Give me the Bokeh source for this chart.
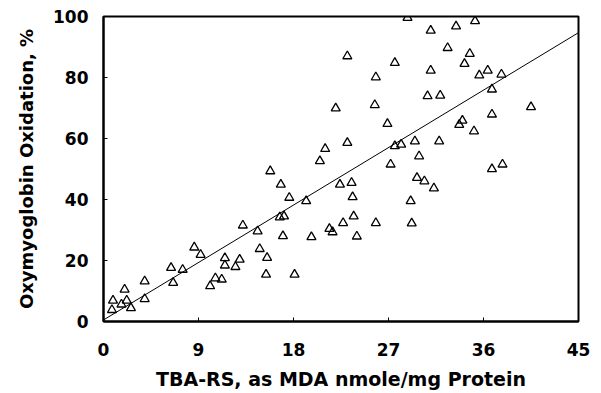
from bokeh.plotting import figure
from bokeh.models import Range1d, FixedTicker, ColumnDataSource
from bokeh.embed import file_html
from bokeh.resources import INLINE

# Data
tba_rs = [0.8, 0.9, 1.7, 2.0, 2.2, 2.6, 3.9, 3.9, 6.4, 6.6, 7.5, 8.6, 9.2, 10.1, 10.6,
          11.2, 11.5, 11.5, 12.5, 12.9, 13.2, 14.6, 14.8, 15.5, 15.4, 15.8, 16.8, 16.7,
          17.1, 17.0, 17.6, 18.1, 19.2, 19.7, 20.5, 21.0, 21.4, 21.7, 22.0, 22.4, 22.7,
          23.1, 23.1, 23.5, 23.6, 23.7, 24.0, 25.7, 25.8, 25.8, 26.9, 27.2, 27.6, 27.6,
          28.2, 28.8, 29.1, 29.2, 29.5, 29.7, 29.9, 30.4, 30.7, 31.0, 31.0, 31.3, 31.8,
          31.9, 32.6, 33.4, 33.7, 34.0, 34.2, 34.7, 35.1, 35.2, 35.6, 36.4, 36.8, 36.8,
          36.8, 37.7, 37.8, 40.5]
oxidation = [3.8, 6.9, 5.6, 10.5, 6.9, 4.4, 7.4, 13.2, 17.6, 12.7, 17.0, 24.3, 21.9, 11.6, 14.2,
             13.8, 20.8, 18.4, 17.9, 20.3, 31.5, 29.6, 23.8, 20.9, 15.4, 49.3, 44.9, 34.2,
             34.5, 28.0, 40.6, 15.4, 39.5, 27.7, 52.6, 56.6, 30.4, 29.3, 69.9, 44.9, 32.3,
             87.0, 58.6, 45.5, 40.8, 34.5, 27.9, 71.0, 80.1, 32.3, 64.8, 51.5, 84.8, 57.5,
             58.0, 99.6, 39.5, 32.2, 59.1, 47.1, 54.2, 46.0, 73.9, 95.4, 82.3, 43.7, 59.1,
             74.1, 89.7, 96.8, 64.5, 65.9, 84.5, 87.8, 62.4, 98.5, 80.7, 82.3, 76.1, 67.9,
             50.0, 81.0, 51.5, 70.3]
fit_x = [0, 45]
fit_y = [0.5, 94.7]
x_ticks = [0, 9, 18, 27, 36, 45]
y_ticks = [0, 20, 40, 60, 80, 100]

FONT = "DejaVu Sans"

p = figure(width=601, height=393, output_backend="svg", toolbar_location=None,
           x_range=Range1d(0, 45), y_range=Range1d(0, 100),
           min_border_left=103, min_border_right=23, min_border_top=16, min_border_bottom=72,
           background_fill_color="white", border_fill_color="white")

p.grid.visible = False
p.outline_line_color = "black"
p.outline_line_width = 2

src = ColumnDataSource(dict(x=tba_rs, y=oxidation))
p.line(fit_x, fit_y, line_color="black", line_width=1)
p.scatter("x", "y", source=src, marker="triangle", size=9, fill_color=None,
          line_color="black", line_width=1.3)

for ax in (p.xaxis[0], p.yaxis[0]):
    ax.axis_line_color = "black"
    ax.axis_line_width = 2
    ax.major_tick_in = 4
    ax.major_tick_out = 0
    ax.major_tick_line_color = "black"
    ax.minor_tick_line_color = None
    ax.major_label_text_font = FONT
    ax.major_label_text_font_style = "bold"
    ax.major_label_text_font_size = "17px"
    ax.major_label_text_color = "black"
    ax.axis_label_text_font = FONT
    ax.axis_label_text_font_style = "bold"
    ax.axis_label_text_color = "black"

p.xaxis[0].ticker = FixedTicker(ticks=x_ticks)
p.yaxis[0].ticker = FixedTicker(ticks=y_ticks)
p.xaxis[0].axis_label = "TBA-RS, as MDA nmole/mg Protein"
p.yaxis[0].axis_label = "Oxymyoglobin Oxidation, %"
p.xaxis[0].axis_label_text_font_size = "19px"
p.yaxis[0].axis_label_text_font_size = "18px"
p.xaxis[0].major_label_standoff = 21
p.xaxis[0].axis_label_standoff = 9
p.yaxis[0].major_label_standoff = 15
p.yaxis[0].axis_label_standoff = 13

open("out.html", "w").write(file_html(p, INLINE))
